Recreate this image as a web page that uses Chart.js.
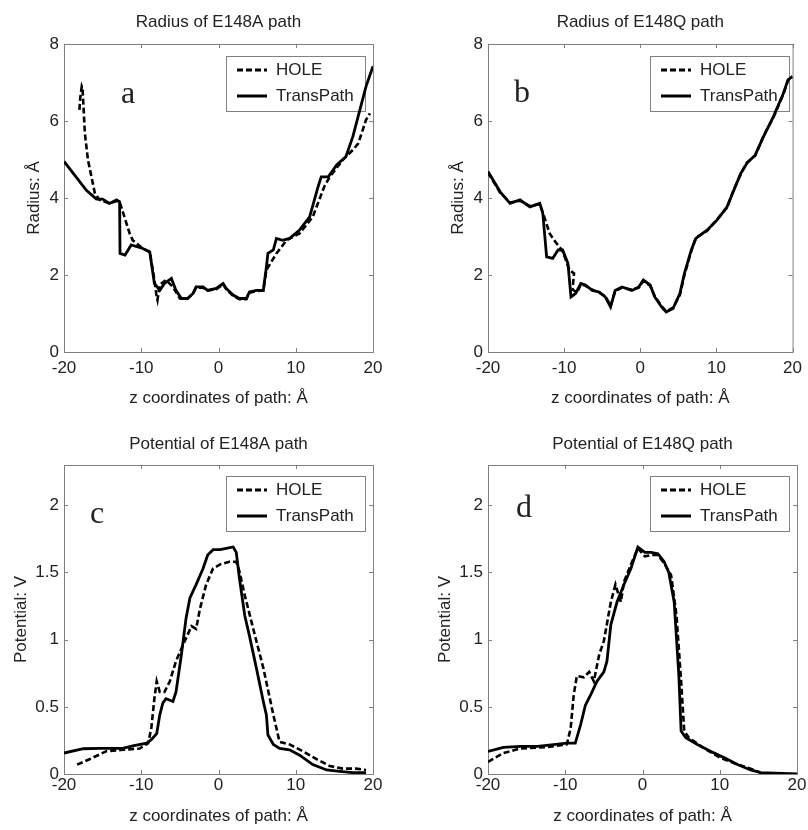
<!DOCTYPE html>
<html lang="en">
<head>
<meta charset="UTF-8">
<title>Radius and potential of E148A / E148Q paths</title>
<script src="https://cdn.jsdelivr.net/npm/chart.js"></script>
<style>
    body { margin: 0; background: #fff; }
    #wrap { position: relative; width: 808px; height: 830px; }
    canvas { position: absolute; }
</style>
</head>
<body>
<div id="wrap">
    <canvas id="chartA" width="404" height="415" style="left:0;top:0"></canvas>
    <canvas id="chartB" width="404" height="415" style="left:404px;top:0"></canvas>
    <canvas id="chartC" width="404" height="415" style="left:0;top:415px"></canvas>
    <canvas id="chartD" width="404" height="415" style="left:404px;top:415px"></canvas>
</div>

<script>
    // tick labels
    const zTicks = [-20, -10, 0, 10, 20];
    const radiusTicks = [0, 2, 4, 6, 8];
    const potentialTicks = [0, 0.5, 1, 1.5, 2];

    // (a) radius, E148A
    const aTransZ = [-20, -17.1, -15.8, -15, -14.1, -13.2, -12.8, -12.75, -12.1, -11.3, -9.8, -8.9, -8.3, -7.6, -7.0, -6.1, -5.5, -4.8, -4.0, -3.3, -2.9, -2.0, -1.4, -0.3, 0.6, 1.0, 1.9, 2.7, 3.6, 4.0, 4.9, 5.8, 6.2, 6.4, 7.1, 7.5, 8.3, 9.2, 10.5, 11.8, 12.9, 13.3, 14.2, 15.3, 16.5, 17.4, 18.3, 19.1, 20];
    const aTransR = [4.95, 4.2, 3.97, 3.97, 3.86, 3.95, 3.9, 2.56, 2.52, 2.78, 2.69, 2.6, 1.78, 1.6, 1.78, 1.91, 1.6, 1.39, 1.39, 1.52, 1.69, 1.69, 1.6, 1.65, 1.78, 1.65, 1.48, 1.39, 1.39, 1.56, 1.6, 1.6, 2.21, 2.56, 2.65, 2.95, 2.9, 2.95, 3.17, 3.51, 4.3, 4.55, 4.55, 4.86, 5.08, 5.6, 6.29, 6.9, 7.42];
    const aHoleZ = [-18.0, -17.9, -17.7, -17.6, -17.3, -16.9, -16.0, -15.4, -14.1, -13.2, -12.8, -11.5, -11.1, -9.8, -8.9, -8.4, -8.0, -7.9, -7.6, -6.8, -5.9, -5.0, -4.0, -3.3, -2.9, -2.0, -1.4, -0.3, 0.6, 1.0, 1.9, 2.7, 3.6, 4.0, 4.9, 5.8, 6.2, 7.5, 8.8, 10.5, 12.2, 13.7, 14.4, 16.1, 17.4, 18.1, 19.1, 19.6];
    const aHoleR = [6.29, 6.6, 6.9, 6.85, 5.68, 4.99, 4.12, 3.95, 3.86, 3.92, 3.9, 3.08, 2.9, 2.69, 2.6, 2.0, 1.43, 1.35, 1.75, 1.87, 1.69, 1.39, 1.39, 1.52, 1.67, 1.67, 1.6, 1.63, 1.76, 1.63, 1.46, 1.37, 1.37, 1.54, 1.58, 1.6, 2.13, 2.56, 2.9, 3.08, 3.51, 4.3, 4.55, 4.99, 5.25, 5.42, 6.03, 6.2];

    // (b) radius, E148Q
    const bTransZ = [-20, -18.4, -17.1, -15.8, -14.5, -13.2, -12.8, -12.3, -11.5, -10.8, -10.2, -9.5, -9.1, -8.5, -7.8, -7.2, -6.3, -5.4, -4.6, -3.9, -3.3, -2.4, -1.1, -0.2, 0.4, 1.3, 1.9, 2.8, 3.4, 4.3, 5.2, 5.8, 6.7, 7.3, 8.8, 10.1, 11.4, 12.3, 13.2, 14.0, 15.1, 16.2, 17.5, 18.8, 19.4, 20];
    const bTransR = [4.69, 4.16, 3.86, 3.95, 3.77, 3.86, 3.6, 2.47, 2.43, 2.65, 2.65, 2.3, 1.43, 1.52, 1.78, 1.74, 1.6, 1.56, 1.43, 1.17, 1.6, 1.69, 1.6, 1.69, 1.87, 1.74, 1.43, 1.17, 1.04, 1.13, 1.52, 2.04, 2.65, 2.95, 3.17, 3.43, 3.77, 4.21, 4.64, 4.9, 5.12, 5.6, 6.12, 6.72, 7.07, 7.16];
    const bHoleZ = [-20, -18.4, -17.1, -15.8, -14.5, -13.2, -12.8, -11.9, -11.3, -10.2, -9.3, -8.7, -8.9, -8.3, -7.8, -7.2, -6.3, -5.4, -4.6, -3.9, -3.3, -2.4, -1.1, -0.2, 0.4, 1.3, 1.9, 2.8, 3.4, 4.3, 5.2, 5.8, 6.7, 7.3, 8.8, 10.1, 11.4, 12.3, 13.2, 14.0, 15.1, 16.2, 17.5, 18.8, 19.4, 20];
    const bHoleR = [4.66, 4.14, 3.88, 3.93, 3.79, 3.84, 3.62, 3.08, 2.9, 2.62, 2.13, 2.04, 1.62, 1.55, 1.76, 1.72, 1.62, 1.54, 1.45, 1.2, 1.58, 1.67, 1.62, 1.67, 1.85, 1.72, 1.45, 1.19, 1.06, 1.15, 1.48, 2.0, 2.62, 2.97, 3.15, 3.45, 3.75, 4.23, 4.62, 4.92, 5.1, 5.62, 6.1, 6.7, 7.05, 7.14];

    // (c) potential, E148A
    const cTransZ = [-20, -17.5, -15.4, -12.4, -11.1, -9.3, -8.7, -8.0, -7.6, -7.2, -6.8, -5.9, -5.5, -4.8, -4.2, -3.7, -2.9, -2.0, -1.4, -0.7, 0.2, 1.0, 1.9, 2.3, 2.7, 3.4, 4.0, 4.9, 5.8, 6.2, 6.4, 7.1, 7.9, 9.2, 10.5, 12.2, 14.0, 15.7, 17.4, 19.1];
    const cTransV = [0.156, 0.188, 0.19, 0.19, 0.21, 0.23, 0.255, 0.30, 0.44, 0.53, 0.56, 0.54, 0.61, 0.89, 1.16, 1.31, 1.41, 1.53, 1.63, 1.67, 1.67, 1.68, 1.69, 1.65, 1.46, 1.18, 1.03, 0.79, 0.54, 0.44, 0.29, 0.22, 0.19, 0.18, 0.14, 0.07, 0.03, 0.02, 0.01, 0.01];
    const cHoleZ = [-18.3, -16.7, -14.5, -12.4, -10.2, -9.1, -8.7, -8.3, -8.0, -7.6, -7.0, -6.3, -5.5, -4.6, -3.5, -2.9, -2.4, -1.6, -0.7, 0.2, 1.4, 2.3, 2.7, 3.4, 4.5, 5.8, 7.1, 7.9, 9.2, 10.9, 12.7, 14.4, 16.1, 17.8, 19.1];
    const cHoleV = [0.07, 0.11, 0.17, 0.18, 0.19, 0.23, 0.34, 0.56, 0.69, 0.61, 0.61, 0.69, 0.84, 0.96, 1.1, 1.08, 1.23, 1.41, 1.53, 1.56, 1.58, 1.58, 1.51, 1.33, 1.08, 0.79, 0.44, 0.24, 0.22, 0.17, 0.11, 0.06, 0.04, 0.04, 0.03];

    // (d) potential, E148Q
    const dTransZ = [-20, -18, -15.8, -13.6, -11.5, -9.8, -8.7, -8.0, -7.4, -6.7, -5.9, -5.0, -4.6, -4.1, -3.3, -2.4, -1.5, -0.6, 0.3, 1.1, 2.0, 2.8, 3.4, 4.1, 4.7, 5.0, 5.6, 7.1, 8.8, 10.6, 12.3, 14.0, 15.3, 20];
    const dTransV = [0.168, 0.198, 0.205, 0.205, 0.218, 0.23, 0.23, 0.37, 0.51, 0.59, 0.69, 0.76, 0.84, 1.11, 1.28, 1.41, 1.53, 1.69, 1.65, 1.65, 1.64, 1.58, 1.5, 1.28, 0.74, 0.32, 0.27, 0.22, 0.17, 0.12, 0.07, 0.03, 0.01, 0];
    const dHoleZ = [-20, -18, -15.8, -12.3, -9.8, -9.3, -8.9, -8.5, -7.6, -6.9, -6.3, -5.6, -5.0, -4.1, -3.5, -2.8, -2.4, -1.5, -0.6, 0.3, 1.1, 2.0, 2.8, 3.7, 4.4, 5.0, 5.4, 6.0, 8.0, 10.1, 12.3, 14.0, 15.3];
    const dHoleV = [0.09, 0.156, 0.19, 0.2, 0.22, 0.34, 0.59, 0.73, 0.72, 0.76, 0.69, 0.89, 0.99, 1.28, 1.41, 1.28, 1.43, 1.56, 1.68, 1.62, 1.63, 1.63, 1.57, 1.48, 1.18, 0.69, 0.32, 0.27, 0.19, 0.12, 0.07, 0.04, 0.01];

    const sans = "'Liberation Sans', Arial, sans-serif";
    const textColor = '#222';
    const boxColor = '#808080';

    function toPoints(xs, ys) {
        return xs.map((x, i) => ({ x: x, y: ys[i] }));
    }

    // MATLAB style frame: box, inward ticks, legend and panel letter
    const framePlugin = {
        id: 'frame',
        beforeDatasetsDraw(chart, args, opts) {
            const ctx = chart.ctx;
            const a = chart.chartArea;
            const xs = chart.scales.x, ys = chart.scales.y;
            ctx.save();
            ctx.strokeStyle = boxColor;
            ctx.lineWidth = 1;
            ctx.strokeRect(a.left + 0.5, a.top + 0.5, a.right - a.left, a.bottom - a.top);
            ctx.beginPath();
            xs.ticks.forEach(t => {
                const px = Math.round(xs.getPixelForValue(t.value)) + 0.5;
                ctx.moveTo(px, a.bottom); ctx.lineTo(px, a.bottom - 4);
                ctx.moveTo(px, a.top); ctx.lineTo(px, a.top + 4);
            });
            ys.ticks.forEach(t => {
                const py = Math.round(ys.getPixelForValue(t.value)) + 0.5;
                ctx.moveTo(a.left, py); ctx.lineTo(a.left + 4, py);
                ctx.moveTo(a.right, py); ctx.lineTo(a.right - 4, py);
            });
            ctx.stroke();

            // legend box
            const lx = a.left + opts.legendX, ly = a.top + opts.legendY;
            const lw = 139, lh = 55;
            ctx.fillStyle = '#fff';
            ctx.fillRect(lx, ly, lw, lh);
            ctx.strokeRect(lx + 0.5, ly + 0.5, lw, lh);
            chart.data.datasets.forEach((ds, i) => {
                const yy = ly + 14 + i * 26;
                ctx.strokeStyle = '#000';
                ctx.lineWidth = 3;
                ctx.setLineDash(ds.borderDash || []);
                ctx.beginPath();
                ctx.moveTo(lx + 11, yy);
                ctx.lineTo(lx + 41, yy);
                ctx.stroke();
                ctx.setLineDash([]);
                ctx.fillStyle = textColor;
                ctx.font = '17px ' + sans;
                ctx.textBaseline = 'middle';
                ctx.textAlign = 'left';
                ctx.fillText(ds.label, lx + 50, yy);
            });

            // panel letter
            ctx.fillStyle = textColor;
            ctx.font = '32px "Liberation Serif", "Times New Roman", serif';
            ctx.textBaseline = 'alphabetic';
            ctx.textAlign = 'left';
            ctx.fillText(opts.letter, a.left + opts.letterX, a.top + opts.letterY);
            ctx.restore();
        }
    };

    function makeChart(id, cfg) {
        const ctx = document.getElementById(id).getContext('2d');
        return new Chart(ctx, {
            type: 'line',
            data: {
                datasets: [{
                    label: 'HOLE',
                    data: toPoints(cfg.holeX, cfg.holeY),
                    borderColor: '#000',
                    borderWidth: 2.6,
                    borderDash: [6, 3],
                    pointRadius: 0,
                    tension: 0
                }, {
                    label: 'TransPath',
                    data: toPoints(cfg.transX, cfg.transY),
                    borderColor: '#000',
                    borderWidth: 2.8,
                    pointRadius: 0,
                    tension: 0
                }]
            },
            options: {
                responsive: false,
                animation: false,
                layout: { padding: { left: 0, right: cfg.padRight, top: 0, bottom: 0 } },
                plugins: {
                    legend: { display: false },
                    tooltip: { enabled: false },
                    title: {
                        display: true,
                        text: cfg.title,
                        fullSize: false,
                        color: textColor,
                        font: { family: sans, size: 17, weight: 'normal' },
                        padding: { top: cfg.titleTop, bottom: cfg.titleBottom }
                    },
                    frame: cfg.frame
                },
                scales: {
                    x: {
                        type: 'linear',
                        min: -20,
                        max: 20,
                        grid: { display: false, drawTicks: false },
                        border: { display: false },
                        afterBuildTicks: s => { s.ticks = zTicks.map(v => ({ value: v })); },
                        afterFit: s => { s.height = cfg.xHeight; },
                        ticks: {
                            color: textColor,
                            padding: cfg.xTickPad,
                            maxRotation: 0,
                            font: { family: sans, size: 17 },
                            callback: v => String(v)
                        },
                        title: {
                            display: true,
                            text: 'z coordinates of path: Å',
                            color: textColor,
                            font: { family: sans, size: 17 },
                            padding: { top: 0, bottom: cfg.xTitlePad }
                        }
                    },
                    y: {
                        type: 'linear',
                        min: cfg.yMin,
                        max: cfg.yMax,
                        grid: { display: false, drawTicks: false },
                        border: { display: false },
                        afterBuildTicks: s => { s.ticks = cfg.yTicks.map(v => ({ value: v })); },
                        afterFit: s => { s.width = cfg.yWidth; },
                        ticks: {
                            color: textColor,
                            padding: 5,
                            font: { family: sans, size: 17 },
                            callback: v => String(v)
                        },
                        title: {
                            display: true,
                            text: cfg.yTitle,
                            color: textColor,
                            font: { family: sans, size: 17 },
                            padding: { top: cfg.yTitlePad, bottom: 0 }
                        }
                    }
                }
            },
            plugins: [framePlugin]
        });
    }

    makeChart('chartA', {
        title: 'Radius of E148A path', yTitle: 'Radius: Å',
        holeX: aHoleZ, holeY: aHoleR, transX: aTransZ, transY: aTransR,
        yMin: 0, yMax: 8, yTicks: radiusTicks,
        padRight: 31, yWidth: 64, xHeight: 63, titleTop: 12, titleBottom: 11.6,
        xTickPad: 6, xTitlePad: 6, yTitlePad: 24,
        frame: { letter: 'a', letterX: 57, letterY: 59, legendX: 162, legendY: 12 }
    });
    makeChart('chartB', {
        title: 'Radius of E148Q path', yTitle: 'Radius: Å',
        holeX: bHoleZ, holeY: bHoleR, transX: bTransZ, transY: bTransR,
        yMin: 0, yMax: 8, yTicks: radiusTicks,
        padRight: 11, yWidth: 84, xHeight: 63, titleTop: 12, titleBottom: 11.6,
        xTickPad: 6, xTitlePad: 6, yTitlePad: 44,
        frame: { letter: 'b', letterX: 26, letterY: 58, legendX: 162, legendY: 12 }
    });
    makeChart('chartC', {
        title: 'Potential of E148A path', yTitle: 'Potential: V',
        holeX: cHoleZ, holeY: cHoleV, transX: cTransZ, transY: cTransV,
        yMin: 0, yMax: 2.3, yTicks: potentialTicks,
        padRight: 31, yWidth: 64, xHeight: 56, titleTop: 19, titleBottom: 10.6,
        xTickPad: 1, xTitlePad: 3, yTitlePad: 11,
        frame: { letter: 'c', letterX: 26, letterY: 58, legendX: 162, legendY: 11 }
    });
    makeChart('chartD', {
        title: 'Potential of E148Q path', yTitle: 'Potential: V',
        holeX: dHoleZ, holeY: dHoleV, transX: dTransZ, transY: dTransV,
        yMin: 0, yMax: 2.3, yTicks: potentialTicks,
        padRight: 11, yWidth: 84, xHeight: 56, titleTop: 19, titleBottom: 10.6,
        xTickPad: 1, xTitlePad: 3, yTitlePad: 31,
        frame: { letter: 'd', letterX: 28, letterY: 52, legendX: 162, legendY: 11 }
    });
</script>
</body>
</html>
